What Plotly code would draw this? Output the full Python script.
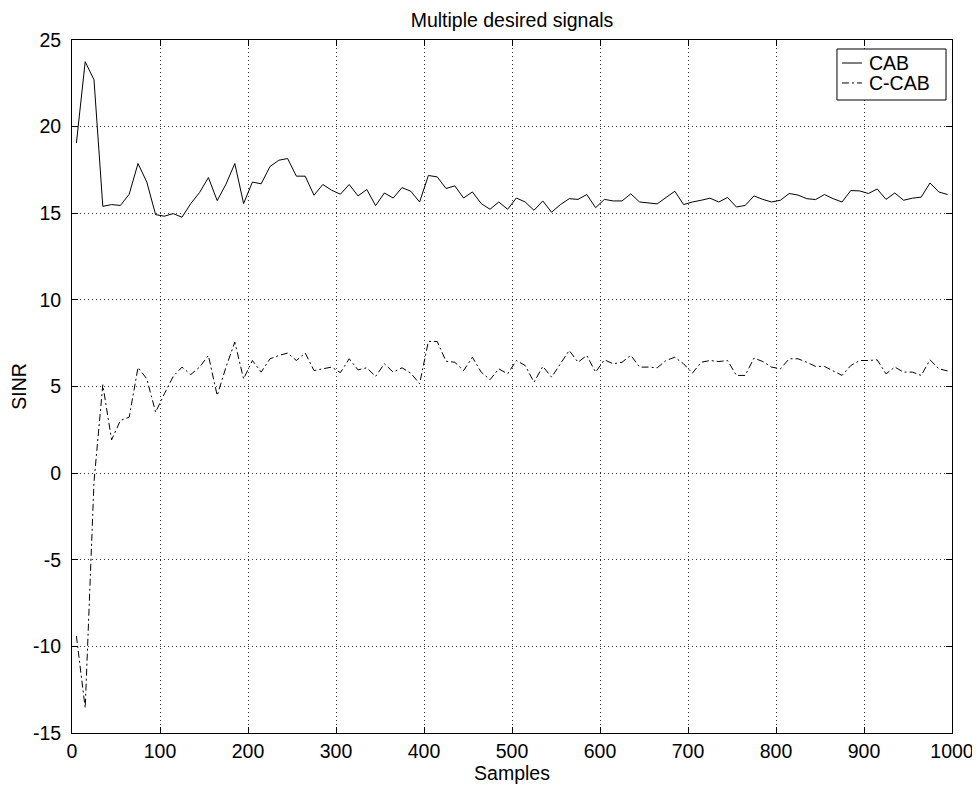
import plotly.graph_objects as go

samples = list(range(5, 1000, 10))

cab = [19.05, 23.75, 22.7, 15.4, 15.5, 15.45, 16.1, 17.87, 16.8, 14.92,
       14.83, 14.98, 14.77, 15.56, 16.2, 17.06, 15.73, 16.68, 17.87, 15.56,
       16.8, 16.7, 17.7, 18.06, 18.16, 17.14, 17.14, 16.04, 16.66, 16.33,
       16.1, 16.66, 16.0, 16.37, 15.44, 16.17, 15.88, 16.48, 16.27, 15.65,
       17.18, 17.1, 16.43, 16.58, 15.88, 16.23, 15.56, 15.23, 15.65, 15.23,
       15.88, 15.65, 15.17, 15.71, 15.06, 15.5, 15.84, 15.8, 16.08, 15.32,
       15.8, 15.71, 15.71, 16.12, 15.65, 15.6, 15.54, 15.91, 16.27, 15.5,
       15.65, 15.75, 15.87, 15.65, 15.91, 15.36, 15.45, 16.0, 15.8, 15.65,
       15.75, 16.14, 16.05, 15.84, 15.79, 16.08, 15.84, 15.65, 16.31, 16.29,
       16.14, 16.4, 15.8, 16.17, 15.75, 15.87, 15.93, 16.75, 16.23, 16.08]

ccab = [-9.4, -13.56, -0.5, 5.1, 1.92, 3.04, 3.23, 6.1, 5.44, 3.52,
        4.58, 5.58, 6.12, 5.69, 6.12, 6.79, 4.48, 6.12, 7.56, 5.44,
        6.5, 5.83, 6.6, 6.79, 6.93, 6.5, 6.93, 5.92, 6.02, 6.12,
        5.8, 6.6, 5.96, 6.08, 5.58, 6.31, 5.83, 6.08, 5.77, 5.16,
        7.6, 7.6, 6.46, 6.4, 5.92, 6.69, 5.83, 5.39, 6.02, 5.73,
        6.5, 6.21, 5.25, 6.16, 5.54, 6.31, 7.08, 6.4, 6.79, 5.83,
        6.54, 6.31, 6.4, 6.8, 6.12, 6.12, 6.08, 6.5, 6.69, 6.31,
        5.77, 6.4, 6.5, 6.44, 6.5, 5.64, 5.64, 6.64, 6.44, 6.12,
        6.02, 6.6, 6.6, 6.4, 6.16, 6.16, 5.92, 5.64, 6.21, 6.5,
        6.5, 6.54, 5.73, 6.12, 5.83, 5.83, 5.64, 6.54, 6.02, 5.9]

series_names = ["CAB", "C-CAB"]
series_dash = ["solid", "7px,3px,2px,3px"]

x_ticks = [0, 100, 200, 300, 400, 500, 600, 700, 800, 900, 1000]
y_ticks = [-15, -10, -5, 0, 5, 10, 15, 20, 25]
y_tick_text = ["-15", "-10", "-5", "0", "5", "10", "15", "20", "25"]

FS = 19.5

fig = go.Figure()
for name, vals, dash in zip(series_names, [cab, ccab], series_dash):
    fig.add_trace(go.Scatter(x=samples, y=vals, mode="lines", name=name,
                             showlegend=False,
                             line=dict(color="black", width=1, dash=dash)))

axis_common = dict(
    showline=True, linecolor="black", linewidth=1, mirror="ticks",
    ticks="inside", ticklen=6, tickcolor="black",
    showgrid=True, gridcolor="#333333", gridwidth=1, griddash="1px,3px",
    zeroline=False, tickfont=dict(size=FS, color="black"), automargin=False,
)

fig.update_xaxes(range=[0, 1000], tickvals=x_ticks,
                 title=dict(text="Samples", font=dict(size=FS, color="black"), standoff=0),
                 ticklabelstandoff=1,
                 **axis_common)
fig.update_yaxes(range=[-15, 25], tickvals=y_ticks, ticktext=y_tick_text,
                 title=dict(text="SINR", font=dict(size=FS, color="black"), standoff=3),
                 ticklabelstandoff=6,
                 **axis_common)

# Custom compact legend box (paper coordinates), like the MATLAB legend
lg_x0, lg_x1, lg_y0, lg_y1 = 0.8693, 0.9932, 0.9134, 0.9870
row_y = [0.9668, 0.9380]
line_x0, line_x1, text_x = 0.8750, 0.8977, 0.9034
shapes = [dict(type="rect", xref="paper", yref="paper",
               x0=lg_x0, x1=lg_x1, y0=lg_y0, y1=lg_y1,
               line=dict(color="black", width=1), fillcolor="white", layer="above")]
annotations = []
for name, dash, ry in zip(series_names, series_dash, row_y):
    shapes.append(dict(type="line", xref="paper", yref="paper",
                       x0=line_x0, x1=line_x1, y0=ry, y1=ry, layer="above",
                       line=dict(color="black", width=1, dash=dash)))
    annotations.append(dict(text=name, xref="paper", yref="paper",
                            x=text_x, y=ry, xanchor="left", yanchor="middle",
                            showarrow=False, font=dict(size=FS, color="black")))

fig.update_layout(
    width=972, height=780,
    margin=dict(l=64, r=28, t=32, b=55),
    paper_bgcolor="white", plot_bgcolor="white",
    font=dict(family="Liberation Sans, Arial, sans-serif", color="black"),
    title=dict(text="Multiple desired signals", x=0.5, xref="paper",
               y=0.993, yref="container", yanchor="top",
               font=dict(size=FS, color="black")),
    shapes=shapes, annotations=annotations,
    showlegend=False,
)

fig.write_html("out.html")
